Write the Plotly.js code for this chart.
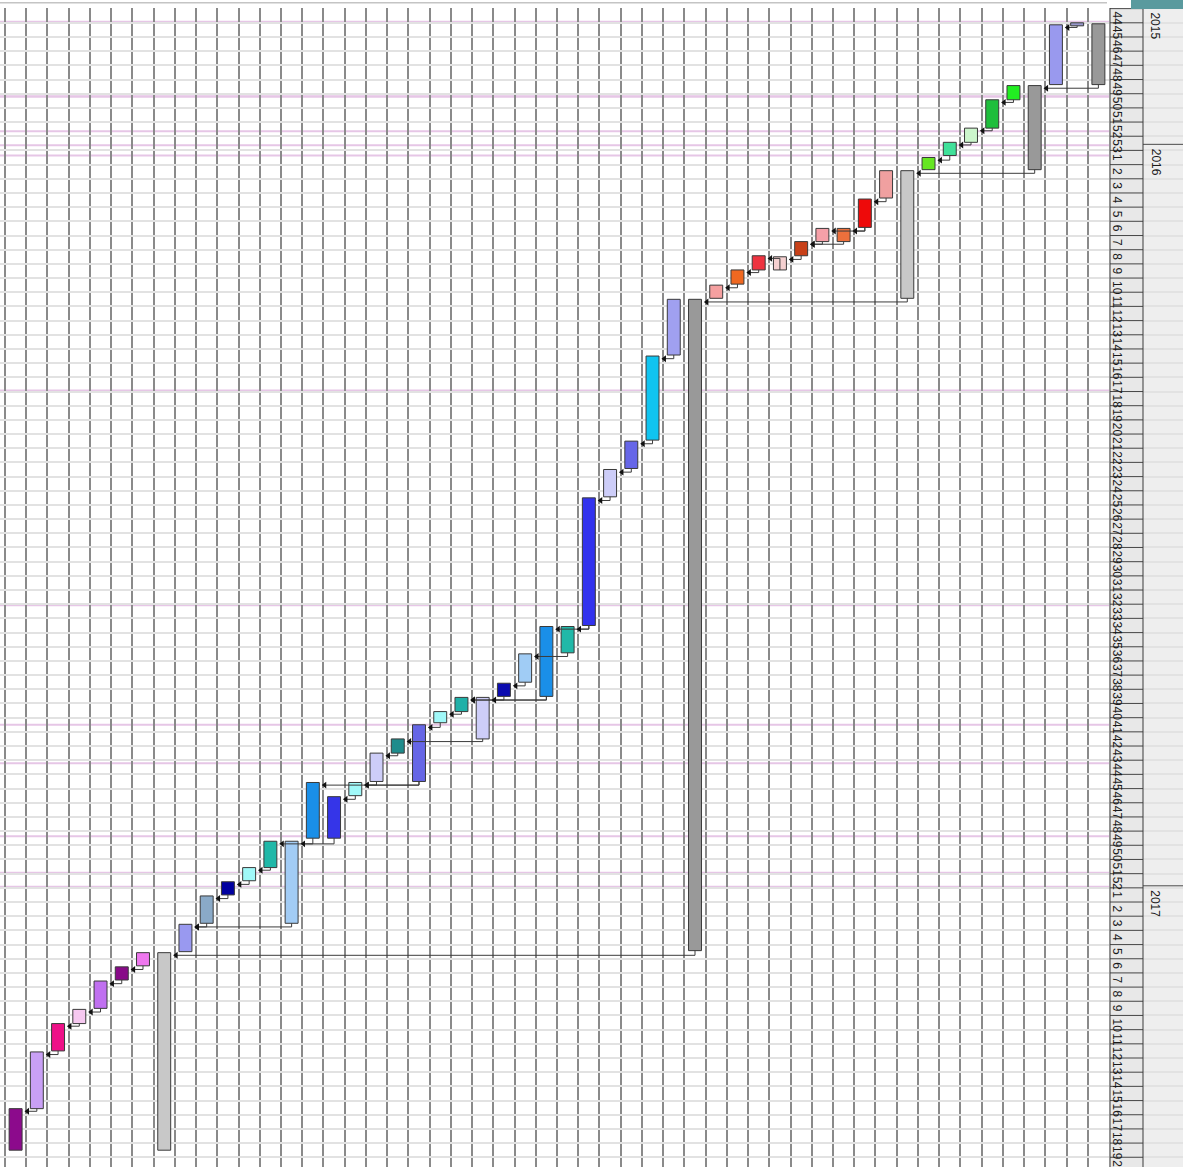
<!DOCTYPE html>
<html>
<head>
<meta charset="utf-8">
<script src="https://cdn.plot.ly/plotly-3.0.1.min.js"></script>
<style>
html,body{margin:0;padding:0;background:#fff;}
#chart{width:1183px;height:1167px;}
</style>
</head>
<body>
<div id="chart"></div>
<script>
// ---- DATA (days counted from 2016-01-01; one column per task, left to right) ----
const taskStart = [476, 448, 434, 427, 413, 406, 399, 399, 385, 371, 364, 357, 344, 344, 315, 322, 315, 300.5, 293.5, 286.5,
  280, 273, 273, 266, 251.5, 238, 238, 174.5, 160.5, 146.5, 104.5, 76.5, 76.5, 69.5, 62, 55, 55.5, 48, 41.5, 41.5,
  27, 13, 13, 6.5, -1, -8, -22, -29, -29, -59, -60, -59.5];
const taskFinish = [496.5, 476, 447.5, 434, 426.5, 412.5, 405.5, 496.5, 398.5, 384.5, 370.5, 363.5, 357, 384.5, 342.5, 342.5, 321.5, 314.5, 300.5, 314.5,
  285.5, 280, 293.5, 272.5, 265.5, 272.5, 251, 237.5, 174, 160, 146, 104, 398, 76, 69, 62, 62, 55, 48, 48,
  41, 26.5, 76, 12.5, 5.5, -1, -8, -22, 12.5, -29.5, -58.5, -29.5];
const taskColors = ['#8C0A8C', '#C9A0F5', '#EE1188', '#F6C8F0', '#C070F0', '#880A88', '#EE77EE', '#C8C8C8', '#9999F0', '#8AAAC8',
  '#0000A0', '#A0F8F8', '#20B8A8', '#A2CCF5', '#1A8FE8', '#3535E8', '#A0F8F8', '#CDCDF8', '#1E8C8C', '#6666E6',
  '#A0F8F8', '#20B0A8', '#CDCDF8', '#0C0CB0', '#A0CCF5', '#1A8FE8', '#20B8A8', '#3333EE', '#CDCDF8', '#6666E8',
  '#10C4F0', '#A0A0F0', '#999999', '#F5A0A0', '#F06820', '#EE3340', '#F5D0D0', '#C84018', '#F5A0A8', '#EC703C',
  '#EE0A0A', '#F0A0A0', '#C8C8C8', '#66E622', '#40E09A', '#CCF5CC', '#1EBE3C', '#22EE22', '#999999', '#9999EE',
  '#9999CC', '#999999'];
// predecessor -> successor links
const links = [[1,0],[2,1],[3,2],[4,3],[5,4],[6,5],[32,7],
  [9,8],[13,8],[10,9],[11,10],[12,11],[14,12],[15,13],[16,15],[19,16],[17,16],[19,14],
  [18,17],[22,18],[20,19],[21,20],[25,22],[25,21],[23,21],[24,23],[26,24],[27,26],[27,25],
  [28,27],[29,28],[30,29],[31,30],[42,32],
  [34,33],[35,34],[36,35],[37,36],[39,37],[38,37],[40,39],[40,38],[41,40],[48,42],
  [44,43],[45,44],[46,45],[47,46],[51,48],[50,49]];
// timescale labels
const weekLabels = ['44','45','46','47','48','49','50','51','52','53',
  '1','2','3','4','5','6','7','8','9','10','11','12','13','14','15','16','17','18','19','20',
  '21','22','23','24','25','26','27','28','29','30','31','32','33','34','35','36','37','38','39','40',
  '41','42','43','44','45','46','47','48','49','50','51','52',
  '1','2','3','4','5','6','7','8','9','10','11','12','13','14','15','16','17','18','19','20','21'];
const firstWeekStart = -67;          // Monday 2015-10-26
const yearLabels = ['2015', '2016', '2017'];
const yearStarts = [-67.3, 0, 366];
const holidays = [-61, -25, -24, -7, 0, 5, 121, 227, 286, 305, 341, 359, 366];

// ---- BUILD ----
const Y_TOP = -67.3, Y_BOTTOM = 504.8;
const idx = taskStart.map((_, i) => i);
const dur = taskStart.map((s, i) => taskFinish[i] - s);

const lx = [], ly = [], ax = [], ay = [];
links.forEach(([p, s]) => {
  const yl = taskStart[s] + 1.3;
  lx.push(p, p, s + 0.56, null);
  ly.push(taskFinish[p], yl, yl, null);
  ax.push(s + 0.56);
  ay.push(yl);
});

const traces = [
  {type: 'scatter', mode: 'lines', x: lx, y: ly, line: {color: '#3c3c3c', width: 1}, hoverinfo: 'skip', connectgaps: false},
  {type: 'bar', x: idx, base: taskStart, y: dur, width: 0.61,
   marker: {color: taskColors, line: {color: '#3a3a3a', width: 1}}, hoverinfo: 'skip'},
  {type: 'scatter', mode: 'markers', x: ax, y: ay,
   marker: {symbol: 'triangle-left', size: 6, color: '#111', line: {width: 0}}, hoverinfo: 'skip'},
  {type: 'scatter', mode: 'markers', x: [0], y: [0], xaxis: 'x2', yaxis: 'y',
   marker: {opacity: 0}, hoverinfo: 'skip'}
];

const shapes = [];
const annotations = [];
const FONT = 'Arial, "Liberation Sans", sans-serif';

// holiday lines
holidays.forEach(h => shapes.push({type: 'line', xref: 'x domain', yref: 'y', x0: 0, x1: 1, y0: h + 0.5, y1: h + 0.5,
  line: {color: '#E6C6E6', width: 2}, layer: 'below'}));

// header backgrounds
shapes.push({type: 'rect', xref: 'x2', yref: 'paper', x0: 0, x1: 34, y0: 0, y1: 1, fillcolor: '#e8e8e8', line: {width: 0}, layer: 'below'});
shapes.push({type: 'rect', xref: 'x2', yref: 'paper', x0: 34, x1: 74, y0: 0, y1: 1, fillcolor: '#eeeeee', line: {width: 0}, layer: 'below'});

// week cells
weekLabels.forEach((lab, i) => {
  const ws = firstWeekStart + 7 * i;
  if (ws > Y_BOTTOM) return;
  shapes.push({type: 'line', xref: 'x2', yref: 'y', x0: 1, x1: 34, y0: ws, y1: ws, line: {color: '#4a4a4a', width: 1}});
  annotations.push({xref: 'x2', yref: 'y', x: 8, y: ws + 0.5, text: lab, showarrow: false, textangle: 90,
    xanchor: 'center', yanchor: 'top', font: {family: FONT, size: 12, color: '#1a1a1a'}});
});
// year cells
yearLabels.forEach((lab, i) => {
  const ys = yearStarts[i];
  if (i > 0) shapes.push({type: 'line', xref: 'x2', yref: 'y', x0: 34, x1: 74, y0: ys, y1: ys, line: {color: '#4a4a4a', width: 1}});
  annotations.push({xref: 'x2', yref: 'y', x: 46.5, y: ys + 1.2, text: lab, showarrow: false, textangle: 90,
    xanchor: 'center', yanchor: 'top', font: {family: FONT, size: 12, color: '#1a1a1a'}});
});
// header vertical borders
shapes.push({type: 'line', xref: 'x2', yref: 'paper', x0: 1, x1: 1, y0: 0, y1: 1, line: {color: '#3a3a3a', width: 1}});
shapes.push({type: 'line', xref: 'x2', yref: 'paper', x0: 34, x1: 34, y0: 0, y1: 1, line: {color: '#3a3a3a', width: 1}});

// top strip
shapes.push({type: 'line', xref: 'paper', yref: 'paper', x0: 0, x1: 1107 / 1183, y0: 1.0045, y1: 1.0045, line: {color: '#c4c4c4', width: 1.5}});
shapes.push({type: 'rect', xref: 'paper', yref: 'paper', x0: 1131 / 1183, x1: 1, y0: 0.9992, y1: 1.0075, fillcolor: '#5a9a9e', line: {width: 0}});

const layout = {
  width: 1183, height: 1167,
  margin: {l: 0, r: 0, t: 8, b: 0, pad: 0},
  paper_bgcolor: '#ffffff', plot_bgcolor: '#ffffff',
  showlegend: false,
  xaxis: {domain: [0, 1109 / 1183], range: [-0.735, 51.5], tickmode: 'linear', tick0: -0.5, dtick: 1,
          showgrid: true, gridcolor: '#8a8a8a', gridwidth: 2, zeroline: false, showticklabels: false, ticks: '', fixedrange: true},
  xaxis2: {domain: [1109 / 1183, 1], range: [0, 74], anchor: 'y', showgrid: false, zeroline: false, showticklabels: false, ticks: '', fixedrange: true},
  yaxis: {range: [Y_BOTTOM, Y_TOP], tickmode: 'linear', tick0: 3, dtick: 7, showgrid: true, gridcolor: '#e2e2e2', gridwidth: 2,
          zeroline: false, showticklabels: false, ticks: '', fixedrange: true},
  shapes: shapes,
  annotations: annotations
};

Plotly.newPlot('chart', traces, layout, {displayModeBar: false, staticPlot: true});
</script>
</body>
</html>
